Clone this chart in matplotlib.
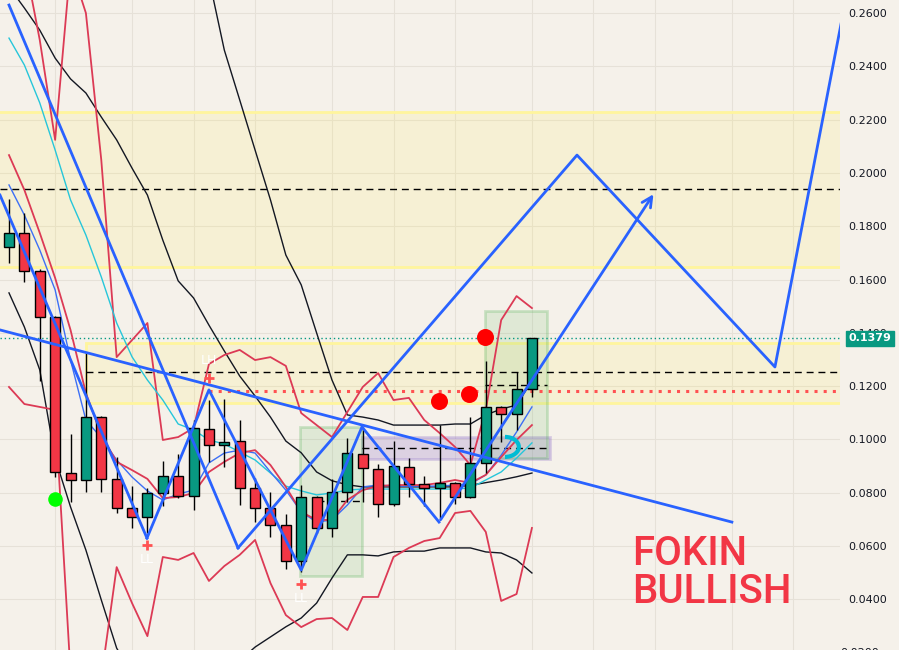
import numpy as np
import matplotlib.pyplot as plt
from matplotlib.patches import Rectangle, Arc

# ---- candles (daily) ----
opens = [0.1722, 0.1774, 0.1632, 0.1459, 0.0874, 0.0848, 0.1084, 0.0851, 0.0743, 0.0709,
         0.0799, 0.0863, 0.0788, 0.1039, 0.0979, 0.0994, 0.0818, 0.0743, 0.0679, 0.0544,
         0.0784, 0.0668, 0.0803, 0.0945, 0.0889, 0.0758, 0.0896, 0.0833, 0.0818, 0.0836,
         0.0784, 0.0911, 0.1122, 0.1095, 0.1189]
highs = [0.1902, 0.1850, 0.1640, 0.1465, 0.1020, 0.1324, 0.1088, 0.0934, 0.0825, 0.0818,
         0.0919, 0.0945, 0.1073, 0.1148, 0.1152, 0.1073, 0.0855, 0.0803, 0.0720, 0.0829,
         0.0788, 0.0851, 0.1005, 0.1047, 0.0908, 0.0994, 0.0930, 0.0863, 0.1054, 0.0840,
         0.1084, 0.1294, 0.1125, 0.1253, 0.1379]
lows = [0.1662, 0.1591, 0.1220, 0.0860, 0.0765, 0.0803, 0.0803, 0.0724, 0.0668, 0.0649,
        0.0750, 0.0780, 0.0735, 0.0915, 0.0896, 0.0754, 0.0690, 0.0634, 0.0514, 0.0502,
        0.0649, 0.0634, 0.0765, 0.0765, 0.0709, 0.0750, 0.0784, 0.0750, 0.0705, 0.0758,
        0.0780, 0.0874, 0.0990, 0.1035, 0.1159]
closes = [0.1774, 0.1632, 0.1459, 0.0878, 0.0848, 0.1084, 0.0851, 0.0743, 0.0709, 0.0799,
          0.0863, 0.0788, 0.1043, 0.0979, 0.0990, 0.0818, 0.0743, 0.0679, 0.0544, 0.0784,
          0.0668, 0.0803, 0.0949, 0.0893, 0.0758, 0.0900, 0.0833, 0.0818, 0.0836, 0.0784,
          0.0911, 0.1122, 0.1095, 0.1189, 0.1379]

# ---- indicators ----
band_mid = [0.2698, 0.2619, 0.2536, 0.2431, 0.2353, 0.2300, 0.2210, 0.2124, 0.2018, 0.1917,
            0.1748, 0.1595, 0.1531, 0.1429, 0.1332, 0.1238, 0.1163, 0.1084, 0.0994, 0.0950,
            0.0878, 0.0845, 0.0830, 0.0822, 0.0822, 0.0822, 0.0822, 0.0822, 0.0822, 0.0822,
            0.0828, 0.0838, 0.0848, 0.0860, 0.0874]
band_up = [0.385, 0.381, 0.381, 0.394, 0.396, 0.400, 0.400, 0.400, 0.390, 0.370,
           0.340, 0.310, 0.298, 0.273, 0.2461, 0.2274, 0.2086, 0.1899, 0.1692, 0.1580,
           0.1400, 0.1223, 0.1092, 0.1084, 0.1073, 0.1054, 0.1054, 0.1054, 0.1054, 0.1058,
           0.1058, 0.1092, 0.1114, 0.1129, 0.1220]
band_low = [0.1550, 0.1422, 0.1261, 0.0930, 0.0747, 0.0585, 0.0398, 0.0217, 0.012, 0.010,
            0.009, 0.008, 0.008, 0.010, 0.013, 0.017, 0.0221, 0.0259, 0.0297, 0.0330,
            0.0386, 0.0480, 0.0567, 0.0567, 0.0563, 0.0578, 0.0581, 0.0581, 0.0593, 0.0593,
            0.0593, 0.0578, 0.0574, 0.0548, 0.0499]
ma_red = [0.2067, 0.1936, 0.1775, 0.1606, 0.1411, 0.1174, 0.1017, 0.0916, 0.0885, 0.0852,
          0.0780, 0.0784, 0.0799, 0.0878, 0.0916, 0.0949, 0.0960, 0.0904, 0.0822, 0.0728,
          0.0698, 0.0698, 0.0773, 0.0810, 0.0825, 0.0829, 0.0829, 0.0829, 0.0837, 0.0848,
          0.0837, 0.0867, 0.0934, 0.0998, 0.1054]
ma_blue = [0.1955, 0.1842, 0.1711, 0.1561, 0.1298, 0.1073, 0.1006, 0.0923, 0.0859, 0.0807,
           0.0773, 0.0795, 0.0810, 0.0912, 0.0949, 0.0960, 0.0949, 0.0878, 0.0810, 0.0728,
           0.0690, 0.0698, 0.0754, 0.0822, 0.0829, 0.0825, 0.0825, 0.0825, 0.0825, 0.0829,
           0.0833, 0.0867, 0.0941, 0.1028, 0.1122]
ma_cyan = [0.2506, 0.2405, 0.2263, 0.2086, 0.1899, 0.1767, 0.1610, 0.1437, 0.1310, 0.1223,
           0.1148, 0.1058, 0.1036, 0.0998, 0.0983, 0.0953, 0.0923, 0.0874, 0.0825, 0.0807,
           0.0792, 0.0799, 0.0810, 0.0814, 0.0814, 0.0814, 0.0814, 0.0814, 0.0814, 0.0814,
           0.0818, 0.0848, 0.0878, 0.0930, 0.0987]
env_up = [0.300, 0.2799, 0.2499, 0.2124, 0.2780, 0.2600, 0.2049, 0.1309, 0.1373, 0.1437,
          0.0998, 0.1009, 0.1043, 0.1283, 0.1317, 0.1336, 0.1298, 0.1309, 0.1276, 0.1099,
          0.1054, 0.1009, 0.1103, 0.1197, 0.1249, 0.1148, 0.1156, 0.1073, 0.1024, 0.0972,
          0.0904, 0.1111, 0.1448, 0.1538, 0.1493]
env_low = [0.1197, 0.1133, 0.1122, 0.1111, 0.0124, 0.005, 0.0105, 0.0521, 0.0386, 0.0262,
           0.0559, 0.0548, 0.0574, 0.0469, 0.0525, 0.0567, 0.0623, 0.0461, 0.0341, 0.0296,
           0.0326, 0.0330, 0.0285, 0.0409, 0.0409, 0.0559, 0.0593, 0.0619, 0.0630, 0.0724,
           0.0732, 0.0653, 0.0394, 0.0420, 0.0668]

# ---- drawings (bar index, price) ----
trend_x, trend_y = [-0.585, 47.0], [0.1411, 0.0690]
fall1_x, fall1_y = [0.0, 14.89], [0.2630, 0.0593]
fall2_x, fall2_y = [-0.585, 8.97], [0.1917, 0.0630]
zz_x = [8.97, 13.0, 19.0, 22.95, 27.96]
zz_y = [0.0630, 0.1186, 0.0510, 0.1047, 0.0690]
proj_x = [14.89, 36.93, 49.8, 54.1]
proj_y = [0.0593, 0.2067, 0.1272, 0.2560]
arrow_from, arrow_to = (27.96, 0.0690), (42.0, 0.1929)

red_dots_x, red_dots_y = [27.96, 29.9, 30.95], [0.1144, 0.1171, 0.1384]
green_dot_x, green_dot_y = [2.99], [0.0777]
cross_x, cross_y = [8.97, 13.0, 18.99], [0.0604, 0.1231, 0.0457]
swing_labels = [(8.97, 0.0548, 'LL'), (13.0, 0.1298, 'LH'), (18.99, 0.0405, 'LL')]

last_price = 0.1379
yticks = [0.04, 0.06, 0.08, 0.10, 0.12, 0.14, 0.16, 0.18, 0.20, 0.22, 0.24, 0.26]
xgrid = [3, 8, 12, 16, 21, 25, 29, 34, 38, 42, 47, 51]

bg = '#f5f1ea'
up_col, dn_col = '#089981', '#f23645'
blue = '#2962ff'

fig = plt.figure(figsize=(8.99, 6.5), dpi=100, facecolor=bg)
ax = fig.add_axes([0, 0, 840 / 899, 1])
ax.set_facecolor(bg)
x0, x1 = -0.585, 54.03
ax.set_xlim(x0, x1)
ax.set_ylim(0.0210, 0.2649)

# zones
yel_f, yel_e = (1.0, 0.92, 0.23, 0.12), '#fff59d'
ax.add_patch(Rectangle((x0 - 1, 0.1647), 60, 0.2229 - 0.1647, fc=yel_f, ec=yel_e, lw=2, zorder=1))
ax.add_patch(Rectangle((5.0, 0.1137), 55, 0.1362 - 0.1137, fc=yel_f, ec=yel_e, lw=2, zorder=1))
ax.add_patch(Rectangle((22.95, 0.0926), 35.18 - 22.95, 0.1009 - 0.0926,
                       fc=(0.58, 0.46, 0.80, 0.25), ec=(0.58, 0.46, 0.80, 0.3), lw=2, zorder=1))
ax.add_patch(Rectangle((18.92, 0.0488), 22.95 - 18.92, 0.1047 - 0.0488,
                       fc=(0.30, 0.69, 0.31, 0.13), ec=(0.30, 0.69, 0.31, 0.25), lw=2, zorder=1))
ax.add_patch(Rectangle((30.95, 0.0931), 34.98 - 30.95, 0.1482 - 0.0931,
                       fc=(0.30, 0.69, 0.31, 0.13), ec=(0.30, 0.69, 0.31, 0.25), lw=2, zorder=1))

# horizontal levels
dash = (0, (5, 3.5))
ax.hlines(0.1940, x0, x1, colors='black', lw=1, linestyles=dash, zorder=2)
ax.hlines(0.1253, 5.0, x1, colors='black', lw=1, linestyles=dash, zorder=2)
ax.hlines(0.0968, 22.95, 35.18, colors='black', lw=1, linestyles=dash, zorder=2)
ax.hlines(0.0769, 20.0, 22.95, colors='black', lw=1, linestyles=dash, zorder=2)
ax.hlines(0.1204, 30.95, 34.98, colors='black', lw=1, linestyles=dash, zorder=2)
ax.hlines(0.1182, 13.0, x1, colors='#ff5252', lw=2.2, linestyles=(0, (1, 2)), zorder=2)
ax.hlines(last_price, x0, x1, colors=up_col, lw=1, linestyles=(0, (1, 2)), zorder=2)

# indicators
idx = np.arange(len(opens))
ax.plot(idx, band_up, color='#131722', lw=1, zorder=2)
ax.plot(idx, band_mid, color='#131722', lw=1, zorder=2)
ax.plot(idx, band_low, color='#131722', lw=1, zorder=2)
ax.plot(idx, env_up, color='#dc3a55', lw=1.3, zorder=2)
ax.plot(idx, env_low, color='#dc3a55', lw=1.3, zorder=2)
ax.plot(idx, ma_cyan, color='#26c6da', lw=1, zorder=2)
ax.plot(idx, ma_blue, color='#3d6ff5', lw=1, zorder=2)
ax.plot(idx, ma_red, color='#dc3a55', lw=1.3, zorder=2)

# candles
o, h, l, c = map(np.array, (opens, highs, lows, closes))
cols = np.where(c >= o, up_col, dn_col)
ax.vlines(idx, l, h, colors='black', lw=1, zorder=3)
ax.bar(idx, np.abs(c - o), bottom=np.minimum(o, c), width=0.65, color=cols,
       edgecolor='black', lw=1, zorder=4)

# drawings
ax.plot(trend_x, trend_y, color=blue, lw=2, zorder=5)
ax.plot(fall1_x, fall1_y, color=blue, lw=2, zorder=5)
ax.plot(fall2_x, fall2_y, color=blue, lw=2, zorder=5)
ax.plot(zz_x, zz_y, color=blue, lw=2, zorder=5)
ax.plot(proj_x, proj_y, color=blue, lw=2, zorder=5)
ax.annotate('', xy=arrow_to, xytext=arrow_from,
            arrowprops=dict(arrowstyle='->', color=blue, lw=2, mutation_scale=18), zorder=5)
ax.add_patch(Arc((32.25, 0.0972), 1.8, 0.0075, theta1=-140, theta2=120,
                 color='#00bcd4', lw=3, zorder=5))

ax.scatter(red_dots_x, red_dots_y, s=150, color='#ff0000', zorder=6, lw=0)
ax.scatter(green_dot_x, green_dot_y, s=110, color='#00ff00', zorder=6, lw=0)
ax.scatter(cross_x, cross_y, s=45, marker='+', color='#ff5252', lw=2, zorder=6)
for sx, sy, st in swing_labels:
    ax.text(sx, sy, st, color='white', fontsize=9, ha='center', va='center', zorder=6)

ax.text(40.5, 0.0529, 'FOKIN', color=dn_col, fontsize=29, fontweight='medium',
        family='Roboto', va='baseline', zorder=6)
ax.text(40.5, 0.0386, 'BULLISH', color=dn_col, fontsize=29, fontweight='medium',
        family='Roboto', va='baseline', zorder=6)

# axes styling
for s in ax.spines.values():
    s.set_visible(False)
ax.set_xticks(xgrid)
ax.tick_params(axis='x', length=0, labelbottom=False)
ax.yaxis.tick_right()
ax.set_yticks(yticks)
ax.set_yticklabels([f'{v:.4f}' for v in yticks])
ax.tick_params(axis='y', length=0, pad=6, labelsize=8, labelcolor='#131722')
ax.grid(True, color='#e6e1d8', lw=0.8, zorder=0)
ax.set_axisbelow(True)
ax.text(1.0, 0.02, '0.0200', transform=ax.get_yaxis_transform(), fontsize=8,
        color='#131722', va='center', ha='left', clip_on=False)
ax.annotate('0.1379', xy=(1.0, last_price), xycoords=ax.get_yaxis_transform(),
            xytext=(6, 0), textcoords='offset points', va='center', ha='left',
            fontsize=8, fontweight='bold', color='white', annotation_clip=False,
            bbox=dict(boxstyle='square,pad=0.25', fc=up_col, ec=up_col), zorder=10)

fig.savefig('out.png', dpi=100, facecolor=bg)
